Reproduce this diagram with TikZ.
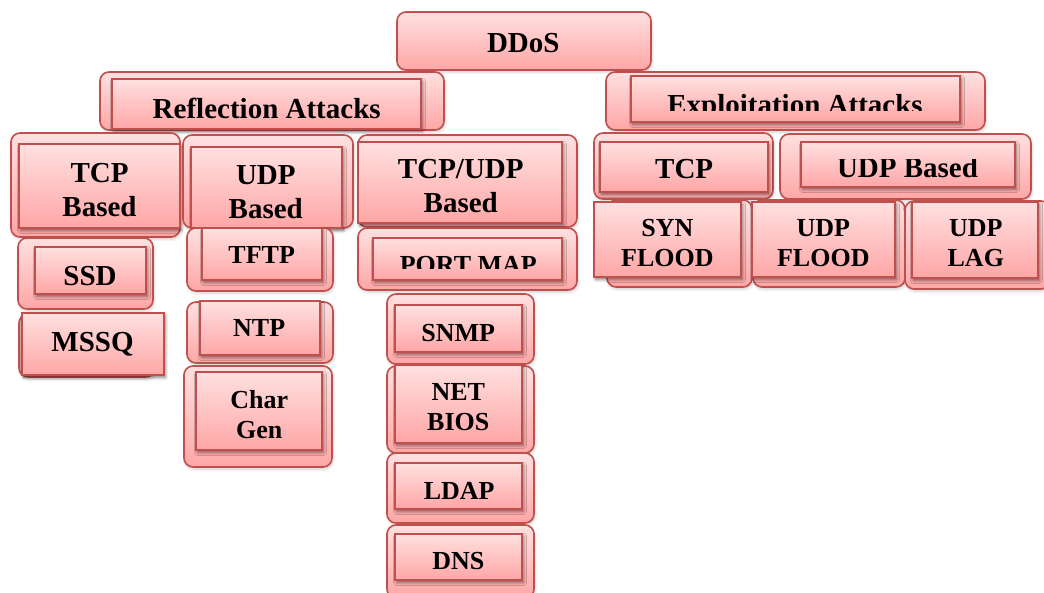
\documentclass[tikz,border=0pt]{standalone}
\usepackage{fontspec}
\setmainfont{Liberation Serif}
\usetikzlibrary{shadows.blur}
\definecolor{rimred}{RGB}{192,80,77}
\definecolor{pinktop}{RGB}{255,224,224}
\definecolor{pinkbot}{RGB}{255,166,166}
\tikzset{
  shell/.style={draw=rimred, line width=1.6pt, rounded corners=9pt,
    top color=pinktop, bottom color=pinkbot, inner sep=0pt,
    blur shadow={shadow xshift=1pt, shadow yshift=-2pt, shadow blur radius=3pt, shadow opacity=20}},
  tile/.style={draw=rimred, line width=1.6pt,
    top color=pinktop, bottom color=pinkbot, inner sep=0pt,
    blur shadow={shadow xshift=1.5pt, shadow yshift=-2.5pt, shadow blur radius=3pt, shadow opacity=50}},
  bigword/.style={inner sep=0pt, align=center, text depth=0pt,
    font=\fontsize{29}{34}\selectfont\bfseries},
  smallword/.style={inner sep=0pt, align=center, text depth=0pt,
    font=\fontsize{26}{30}\selectfont\bfseries}
}
\begin{document}
\begin{tikzpicture}[x=1pt, y=-1pt]
  \useasboundingbox (0,0) rectangle (1044,592);

  \node[shell, minimum width=254pt, minimum height=58pt] (ddos-bg) at (524,41) {};
  \node[bigword] (ddos) at (523.3,42.5) {DDoS};

  \node[shell, minimum width=344pt, minimum height=58pt] (refl-bg) at (272,101) {};
  \node[tile, minimum width=309pt, minimum height=50pt] (refl-box) at (266.5,104) {};
  \node[bigword] (refl) at (266.7,108.3) {Reflection Attacks};

  \node[shell, minimum width=379pt, minimum height=58pt] (expl-bg) at (795.5,101) {};
  \node[tile, minimum width=329pt, minimum height=46pt] (expl-box) at (795.5,99) {};
  \begin{scope}
    \clip (631,76) rectangle (960,110);
    \node[bigword] (expl) at (795,104) {Exploitation Attacks};
  \end{scope}

  \node[shell, minimum width=169pt, minimum height=104pt] (tcpb-bg) at (95.5,185) {};
  \node[tile, minimum width=161pt, minimum height=84pt] (tcpb-box) at (99.5,186) {};
  \node[bigword] (tcpb) at (99.5,190.2) {TCP\\Based};

  \node[shell, minimum width=170pt, minimum height=93pt] (udpb-bg) at (268,181.5) {};
  \node[tile, minimum width=151pt, minimum height=81pt] (udpb-box) at (266.5,187.5) {};
  \begin{scope}
    \clip (191,147) rectangle (342,218.5);
    \node[bigword] (udpb) at (265.8,192.5) {UDP\\Based};
  \end{scope}

  \node[shell, minimum width=219pt, minimum height=92pt] (mixb-bg) at (467.5,181) {};
  \node[tile, minimum width=204pt, minimum height=81pt] (mixb-box) at (460,182.5) {};
  \node[bigword] (mixb) at (460.8,186) {TCP/UDP\\Based};

  \node[shell, minimum width=219pt, minimum height=62pt] (pmap-bg) at (467.5,259) {};
  \node[tile, minimum width=189pt, minimum height=42pt] (pmap-box) at (467.5,259) {};
  \begin{scope}
    \clip (373,238) rectangle (562,268.3);
    \node[smallword] (pmap) at (468.3,264.6) {PORT MAP};
  \end{scope}

  \node[shell, minimum width=135pt, minimum height=71pt] (ssd-bg) at (85.5,273.5) {};
  \node[tile, minimum width=111pt, minimum height=47pt] (ssd-box) at (90.5,270.5) {};
  \node[bigword] (ssd) at (90,276) {SSD};

  \node[shell, minimum width=136pt, minimum height=63pt] (mssq-bg) at (87,345.5) {};
  \node[tile, minimum width=142pt, minimum height=62pt] (mssq-box) at (93,344) {};
  \node[bigword] (mssq) at (92.5,341.7) {MSSQ};

  \node[shell, minimum width=146pt, minimum height=63pt] (tftp-bg) at (260,259.5) {};
  \node[tile, minimum width=120pt, minimum height=52pt] (tftp-box) at (262,254) {};
  \node[smallword] (tftp) at (261.7,255) {TFTP};

  \node[shell, minimum width=146pt, minimum height=61pt] (ntp-bg) at (260,332.5) {};
  \node[tile, minimum width=120pt, minimum height=54pt] (ntp-box) at (260,328) {};
  \node[smallword] (ntp) at (259.2,327.8) {NTP};

  \node[shell, minimum width=148pt, minimum height=101pt] (cgen-bg) at (258,416.5) {};
  \node[tile, minimum width=126pt, minimum height=78pt] (cgen-box) at (259,411) {};
  \node[smallword] (cgen) at (259.2,414) {Char\\Gen};

  \node[shell, minimum width=147pt, minimum height=70pt] (snmp-bg) at (460.5,329) {};
  \node[tile, minimum width=127pt, minimum height=47pt] (snmp-box) at (458.5,328.5) {};
  \node[smallword] (snmp) at (458.3,332.5) {SNMP};

  \node[shell, minimum width=147pt, minimum height=87pt] (nbios-bg) at (460.5,409.5) {};
  \node[tile, minimum width=127pt, minimum height=78pt] (nbios-box) at (458.5,404) {};
  \node[smallword] (nbios) at (458.3,406.7) {NET\\BIOS};

  \node[shell, minimum width=147pt, minimum height=70pt] (ldap-bg) at (460.5,488) {};
  \node[tile, minimum width=127pt, minimum height=46pt] (ldap-box) at (458.5,486) {};
  \node[smallword] (ldap) at (459.2,490.5) {LDAP};

  \node[shell, minimum width=147pt, minimum height=73pt] (dns-bg) at (460.5,561.5) {};
  \node[tile, minimum width=127pt, minimum height=46pt] (dns-box) at (458.5,557) {};
  \node[smallword] (dns) at (458.3,560.8) {DNS};

  \node[shell, minimum width=179pt, minimum height=66pt] (tcpx-bg) at (683.5,166) {};
  \node[tile, minimum width=168pt, minimum height=50pt] (tcpx-box) at (684,167) {};
  \node[bigword] (tcpx) at (684.2,169.3) {TCP};

  \node[shell, minimum width=251pt, minimum height=65pt] (udpx-bg) at (905.5,166.5) {};
  \node[tile, minimum width=214pt, minimum height=45pt] (udpx-box) at (908,164.5) {};
  \begin{scope}
    \clip (801,159.3) rectangle (1015,187);
    \node[bigword] (udpx) at (907.5,167.2) {UDP Based};
  \end{scope}

  \node[shell, minimum width=145pt, minimum height=87pt] (syn-bg) at (679.5,243.5) {};
  \node[tile, minimum width=147pt, minimum height=75pt] (syn-box) at (667.5,239.5) {};
  \node[smallword] (syn) at (667.4,242.9) {SYN\\FLOOD};

  \node[shell, minimum width=152pt, minimum height=87pt] (udpf-bg) at (829,243.5) {};
  \node[tile, minimum width=143pt, minimum height=75pt] (udpf-box) at (823.5,239.5) {};
  \node[smallword] (udpf) at (823.3,242.9) {UDP\\FLOOD};

  \node[shell, minimum width=145pt, minimum height=88pt] (udpl-bg) at (977.5,245) {};
  \node[tile, minimum width=126pt, minimum height=76pt] (udpl-box) at (975,240) {};
  \node[smallword] (udpl) at (975.8,243) {UDP\\LAG};
\end{tikzpicture}
\end{document}
